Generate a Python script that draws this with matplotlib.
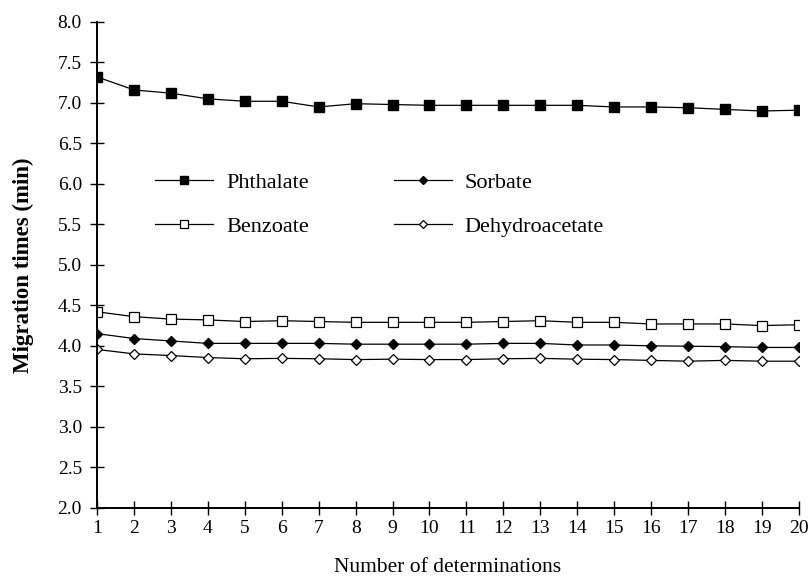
import numpy as np
import matplotlib
matplotlib.use("Agg")
import matplotlib.pyplot as plt
from matplotlib.ticker import FormatStrFormatter

# Values
determinations = list(range(1, 21))
phthalate = [7.32, 7.16, 7.12, 7.05, 7.02, 7.02, 6.95, 6.99, 6.98, 6.97,
             6.97, 6.97, 6.97, 6.97, 6.95, 6.95, 6.94, 6.92, 6.90, 6.91]
sorbate = [4.15, 4.09, 4.06, 4.03, 4.03, 4.03, 4.03, 4.02, 4.02, 4.02,
           4.02, 4.03, 4.03, 4.01, 4.01, 4.00, 3.995, 3.99, 3.98, 3.98]
benzoate = [4.42, 4.36, 4.33, 4.32, 4.30, 4.31, 4.30, 4.29, 4.29, 4.29,
            4.29, 4.30, 4.31, 4.29, 4.29, 4.27, 4.27, 4.27, 4.25, 4.26]
dehydroacetate = [3.955, 3.90, 3.88, 3.855, 3.84, 3.845, 3.84, 3.83, 3.835, 3.83,
                  3.83, 3.84, 3.845, 3.835, 3.83, 3.82, 3.81, 3.82, 3.81, 3.81]
y_ticks = [2.0, 2.5, 3.0, 3.5, 4.0, 4.5, 5.0, 5.5, 6.0, 6.5, 7.0, 7.5, 8.0]

plt.rcParams['font.family'] = ['Liberation Serif', 'DejaVu Serif']

fig = plt.figure(figsize=(8.1, 5.77), dpi=100)
ax = fig.add_axes([0.12, 0.12, 0.866, 0.842])

lw = 0.9
l_ph, = ax.plot(determinations, phthalate, color='black', lw=lw, marker='s', ms=7,
                mfc='black', mec='black', label='Phthalate')
l_so, = ax.plot(determinations, sorbate, color='black', lw=lw, marker='D', ms=5,
                mfc='black', mec='black', label='Sorbate')
l_be, = ax.plot(determinations, benzoate, color='black', lw=lw, marker='s', ms=7.5,
                mfc='white', mec='black', mew=0.9, label='Benzoate')
l_de, = ax.plot(determinations, dehydroacetate, color='black', lw=lw, marker='D', ms=5.5,
                mfc='white', mec='black', mew=0.9, label='Dehydroacetate')

ax.set_xlim(1, 20)
ax.set_ylim(2.0, 8.0)
ax.set_xticks(determinations)
ax.set_yticks(y_ticks)
ax.yaxis.set_major_formatter(FormatStrFormatter('%.1f'))

for side in ['top', 'right']:
    ax.spines[side].set_visible(False)
for side in ['left', 'bottom']:
    ax.spines[side].set_linewidth(1.4)
ax.tick_params(direction='inout', length=10, width=1, labelsize=14)
ax.tick_params(axis='x', pad=4)
ax.tick_params(axis='y', pad=6)

ax.set_xlabel('Number of determinations', fontsize=15.5, labelpad=15)
ax.set_ylabel('Migration times (min)', fontsize=16.5, fontweight='bold', labelpad=17)

# column-wise fill: Phthalate/Benzoate first column, Sorbate/Dehydroacetate second
ax.legend([l_ph, l_be, l_so, l_de],
          ['Phthalate', 'Benzoate', 'Sorbate', 'Dehydroacetate'],
          loc='upper left', bbox_to_anchor=(0.083, 0.69), ncol=2,
          frameon=False, fontsize=16, handlelength=2.6, handletextpad=0.6,
          columnspacing=3.8, labelspacing=1.05, markerscale=0.75,
          borderpad=0, borderaxespad=0)

fig.savefig('out.png', dpi=100)
